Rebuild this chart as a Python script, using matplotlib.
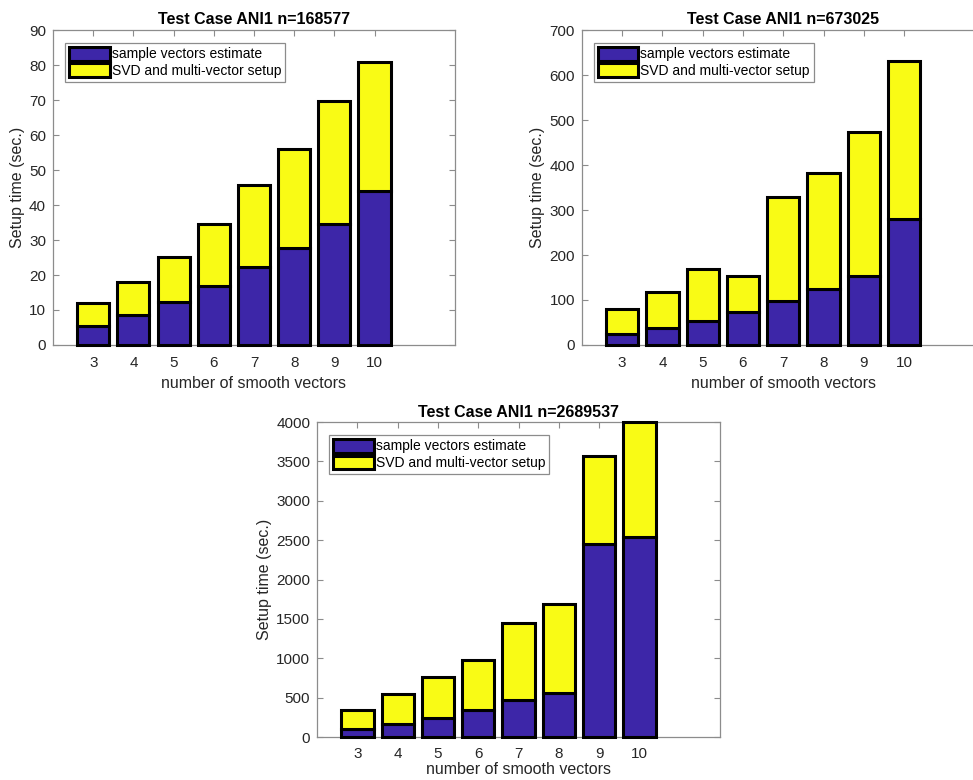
import matplotlib
matplotlib.use("Agg")
import matplotlib.pyplot as plt

# number of smooth vectors
vectors = [3, 4, 5, 6, 7, 8, 9, 10]

# Test case ANI1, n=168577 (seconds)
sample_168577 = [5.4, 8.6, 12.4, 16.9, 22.2, 27.6, 34.5, 44.1]
total_168577 = [12.1, 18.1, 25.2, 34.6, 45.7, 56.1, 69.8, 80.8]

# Test case ANI1, n=673025 (seconds)
sample_673025 = [24, 38, 54, 74, 98, 124, 153, 280]
total_673025 = [79, 118, 168, 153, 330, 383, 473, 631]

# Test case ANI1, n=2689537 (seconds)
sample_2689537 = [106, 161, 241, 339, 474, 559, 2455, 2540]
total_2689537 = [339, 546, 762, 982, 1448, 1693, 3568, 4000]

titles = ["Test Case ANI1 n=168577", "Test Case ANI1 n=673025", "Test Case ANI1 n=2689537"]
ylims = [90, 700, 4000]
yticks = [range(0, 91, 10), range(0, 701, 100), range(0, 4001, 500)]

BLUE = "#3D26A8"
YELLOW = "#F9FB15"
AXIS_GRAY = "#8c8c8c"
TEXT_GRAY = "#262626"

plt.rcParams["font.family"] = ["Liberation Sans", "DejaVu Sans"]

fig = plt.figure(figsize=(9.73, 7.80), dpi=100)

positions = [
    [0.0545, 0.5577, 0.413, 0.4038],
    [0.598, 0.5577, 0.414, 0.4038],
    [0.326, 0.0551, 0.414, 0.4038],
]
xlabel_pads = [4, 4, 1]
xtick_pads = [8, 8, 7]

data = [
    (sample_168577, total_168577),
    (sample_673025, total_673025),
    (sample_2689537, total_2689537),
]

for pos, (sample, total), title, ymax, yt, lpad, tpad in zip(
        positions, data, titles, ylims, yticks, xlabel_pads, xtick_pads):
    ax = fig.add_axes(pos)
    rest = [t - s for s, t in zip(sample, total)]
    ax.bar(vectors, sample, width=0.8, color=BLUE, edgecolor="black",
           linewidth=2.2, label="sample vectors estimate", zorder=3, clip_on=False)
    ax.bar(vectors, rest, width=0.8, bottom=sample, color=YELLOW, edgecolor="black",
           linewidth=2.2, label="SVD and multi-vector setup", zorder=3, clip_on=False)
    ax.set_xlim(2, 12)
    ax.set_ylim(0, ymax)
    ax.set_xticks(vectors)
    ax.set_yticks(list(yt))
    ax.tick_params(direction="in", length=4, width=0.8, color=AXIS_GRAY,
                   labelcolor=TEXT_GRAY, labelsize=11, top=True, right=True)
    ax.tick_params(axis="x", pad=tpad)
    ax.tick_params(axis="y", pad=5)
    for sp in ax.spines.values():
        sp.set_color(AXIS_GRAY)
        sp.set_linewidth(0.9)
    ax.set_title(title, fontsize=11.5, fontweight="bold", color="black", pad=4)
    ax.set_xlabel("number of smooth vectors", fontsize=11.5, color=TEXT_GRAY, labelpad=lpad)
    ax.set_ylabel("Setup time (sec.)", fontsize=11.5, color=TEXT_GRAY, labelpad=3)
    leg = ax.legend(loc="upper left", bbox_to_anchor=(0.03, 0.96), fontsize=10,
                    fancybox=False, framealpha=1, edgecolor=AXIS_GRAY,
                    handlelength=2.9, handleheight=1.15, handletextpad=0.15,
                    labelspacing=0.15, borderpad=0.3, borderaxespad=0.0)
    leg.get_frame().set_linewidth(0.9)
    leg.set_zorder(5)

fig.savefig("out.png", dpi=100, facecolor="white")
